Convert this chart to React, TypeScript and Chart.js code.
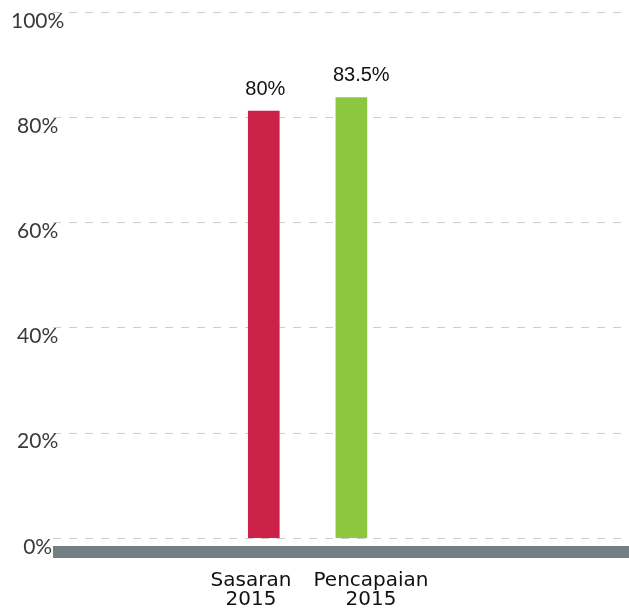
import { useEffect, useRef } from 'react';
import { Chart, registerables } from 'chart.js';

Chart.register(...registerables);

// ---- data ----
const categories: string[][] = [['Sasaran', '2015'], ['Pencapaian', '2015']];
const values: number[] = [81.2, 83.8];
const valueLabels: string[] = ['80%', '83.5%'];
const barColors: string[] = ['#cb2249', '#8dc63f'];
const yMin = 0;
const yMax = 100;
const yStep = 20;
// category-index ranges of the two horizontal axes
const barAxisRange = [-2.406, 4.169];
const labelAxisRange = [-1.65, 3.15];

const barLabelsPlugin = {
  id: 'barLabels',
  afterDatasetsDraw(chart: any) {
    const ctx = chart.ctx;
    const meta = chart.getDatasetMeta(0);
    ctx.save();
    ctx.font = '20px "Liberation Sans", Arial, sans-serif';
    ctx.fillStyle = '#111111';
    ctx.textAlign = 'left';
    ctx.textBaseline = 'alphabetic';
    meta.data.forEach((el: any, i: number) => {
      const { x, y, width } = el.getProps(['x', 'y', 'width'], true);
      ctx.fillText(valueLabels[i], x - width / 2 - 3, y - 16.5);
    });
    ctx.restore();
  },
};

const baseBarPlugin = {
  id: 'baseBar',
  afterDraw(chart: any) {
    const { ctx, chartArea } = chart;
    const y0 = chart.scales.y.getPixelForValue(0);
    ctx.save();
    ctx.fillStyle = '#747e85';
    ctx.fillRect(chartArea.left, y0 + 7.7, chartArea.right - chartArea.left, 12);
    ctx.restore();
  },
};

export default function App() {
  const ref = useRef<HTMLCanvasElement | null>(null);

  useEffect(() => {
    document.body.style.margin = '0';
    if (!ref.current) return;
    const chart = new Chart(ref.current, {
      type: 'bar',
      data: {
        datasets: [
          {
            data: values.map((v, i) => ({ x: i, y: v })),
            backgroundColor: barColors,
            borderWidth: 0,
            barThickness: 31,
            xAxisID: 'x',
            yAxisID: 'y',
          } as any,
        ],
      },
      options: {
        responsive: false,
        animation: false,
        devicePixelRatio: 1,
        layout: { padding: { top: 12.3, left: 0, right: 0, bottom: 0 } },
        plugins: { legend: { display: false }, tooltip: { enabled: false } },
        scales: {
          x: {
            type: 'linear',
            display: false,
            offset: false,
            bounds: 'data',
            grace: 0,
            min: barAxisRange[0],
            max: barAxisRange[1],
            grid: { display: false, offset: false },
          },
          xl: {
            type: 'linear',
            position: 'bottom',
            offset: false,
            bounds: 'data',
            grace: 0,
            min: labelAxisRange[0],
            max: labelAxisRange[1],
            grid: { display: false, drawTicks: false, offset: false },
            border: { display: false },
            afterBuildTicks: (s: any) => {
              s.ticks = categories.map((_, i) => ({ value: i }));
            },
            afterFit: (s: any) => {
              s.height = 75.7;
            },
            ticks: {
              autoSkip: false,
              maxRotation: 0,
              padding: 33.5,
              color: '#111111',
              font: { family: '"DejaVu Sans", sans-serif', size: 20, lineHeight: 0.935 },
              callback: (v: any) => categories[Math.round(Number(v))] ?? '',
            },
          } as any,
          y: {
            type: 'linear',
            position: 'left',
            min: yMin,
            max: yMax,
            afterFit: (s: any) => {
              s.width = 53;
            },
            grid: {
              color: '#cccccc',
              lineWidth: 1,
              drawTicks: false,
            },
            border: { display: false, dash: [8, 8] },
            ticks: {
              stepSize: yStep,
              mirror: true,
              crossAlign: 'center',
              padding: -42,
              labelOffset: 8.5,
              color: '#3a3a3a',
              font: { family: 'Lato, sans-serif', size: 21 },
              callback: (v: any) => `${v}%`,
            },
          } as any,
        },
      },
      plugins: [baseBarPlugin, barLabelsPlugin],
    });
    return () => chart.destroy();
  }, []);

  return (
    <div style={{ width: 629, height: 614 }}>
      <canvas ref={ref} width={629} height={614} style={{ display: 'block' }} />
    </div>
  );
}
